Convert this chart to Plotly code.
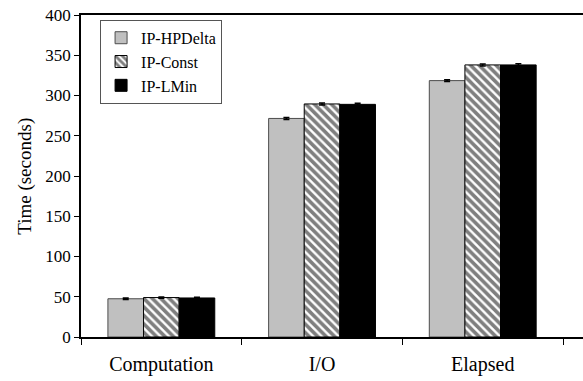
import plotly.graph_objects as go

categories = ["Computation", "I/O", "Elapsed"]
series_names = ["IP-HPDelta", "IP-Const", "IP-LMin"]
hpdelta = [47.5, 271.5, 318.5]
const = [49.0, 289.5, 338.0]
lmin = [48.5, 289.0, 338.0]
err_hpdelta = [0.8, 1.2, 1.2]
err_const = [0.8, 1.2, 1.2]
err_lmin = [0.8, 1.5, 1.5]
y_ticks = [0, 50, 100, 150, 200, 250, 300, 350, 400]
y_title = "Time (seconds)"

FONT = "Liberation Serif"

fig = go.Figure()
fig.add_trace(go.Bar(
    name=series_names[0], x=categories, y=hpdelta,
    marker=dict(color="#c0c0c0", line=dict(color="#4d4d4d", width=1)),
    error_y=dict(type="data", array=err_hpdelta, color="black", thickness=1.5, width=3),
))
fig.add_trace(go.Bar(
    name=series_names[1], x=categories, y=const,
    marker=dict(color="white", line=dict(color="black", width=1),
                pattern=dict(shape="\\", fgcolor="black", bgcolor="white", size=6, solidity=0.6)),
    error_y=dict(type="data", array=err_const, color="black", thickness=1.5, width=3),
))
fig.add_trace(go.Bar(
    name=series_names[2], x=categories, y=lmin,
    marker=dict(color="black", line=dict(color="black", width=1)),
    error_y=dict(type="data", array=err_lmin, color="black", thickness=1.5, width=3),
))

fig.update_layout(
    width=583, height=381,
    margin=dict(l=81, r=0, t=15, b=44, autoexpand=False),
    paper_bgcolor="white", plot_bgcolor="white",
    barmode="group", bargap=0.335, bargroupgap=0,
    font=dict(family=FONT, color="black"),
    showlegend=True,
    legend=dict(
        x=0.038, y=0.985, xanchor="left", yanchor="top",
        bgcolor="white", bordercolor="#555555", borderwidth=1,
        font=dict(family=FONT, size=16, color="black"),
        tracegroupgap=0, itemwidth=30,
    ),
    xaxis=dict(
        range=[-0.5, 2.624], showline=True, linecolor="black", linewidth=1.5,
        mirror=True, ticks="outside", ticklen=6, tickcolor="black",
        tickson="boundaries", showgrid=False, zeroline=False, automargin=False,
        ticklabelstandoff=8, ticklabeloverflow="allow",
        tickfont=dict(family=FONT, size=20, color="black"),
    ),
    yaxis=dict(
        range=[0, 400], tickvals=y_ticks, showline=True, linecolor="black", linewidth=1.5,
        ticks="outside", ticklen=5, tickcolor="black", showgrid=False, zeroline=False,
        automargin=False, ticklabeloverflow="allow",
        tickfont=dict(family=FONT, size=17, color="black"),
    ),
    annotations=[dict(
        text=y_title, xref="paper", yref="paper", x=-0.112, y=0.5,
        xanchor="center", yanchor="middle", textangle=-90, showarrow=False,
        font=dict(family=FONT, size=19, color="black"),
    )],
)

# Remove the browser's default 8px body margin so the figure fills the window.
fig.write_html("out.html", config={"displayModeBar": False},
               post_script="document.body.style.margin='0';")
